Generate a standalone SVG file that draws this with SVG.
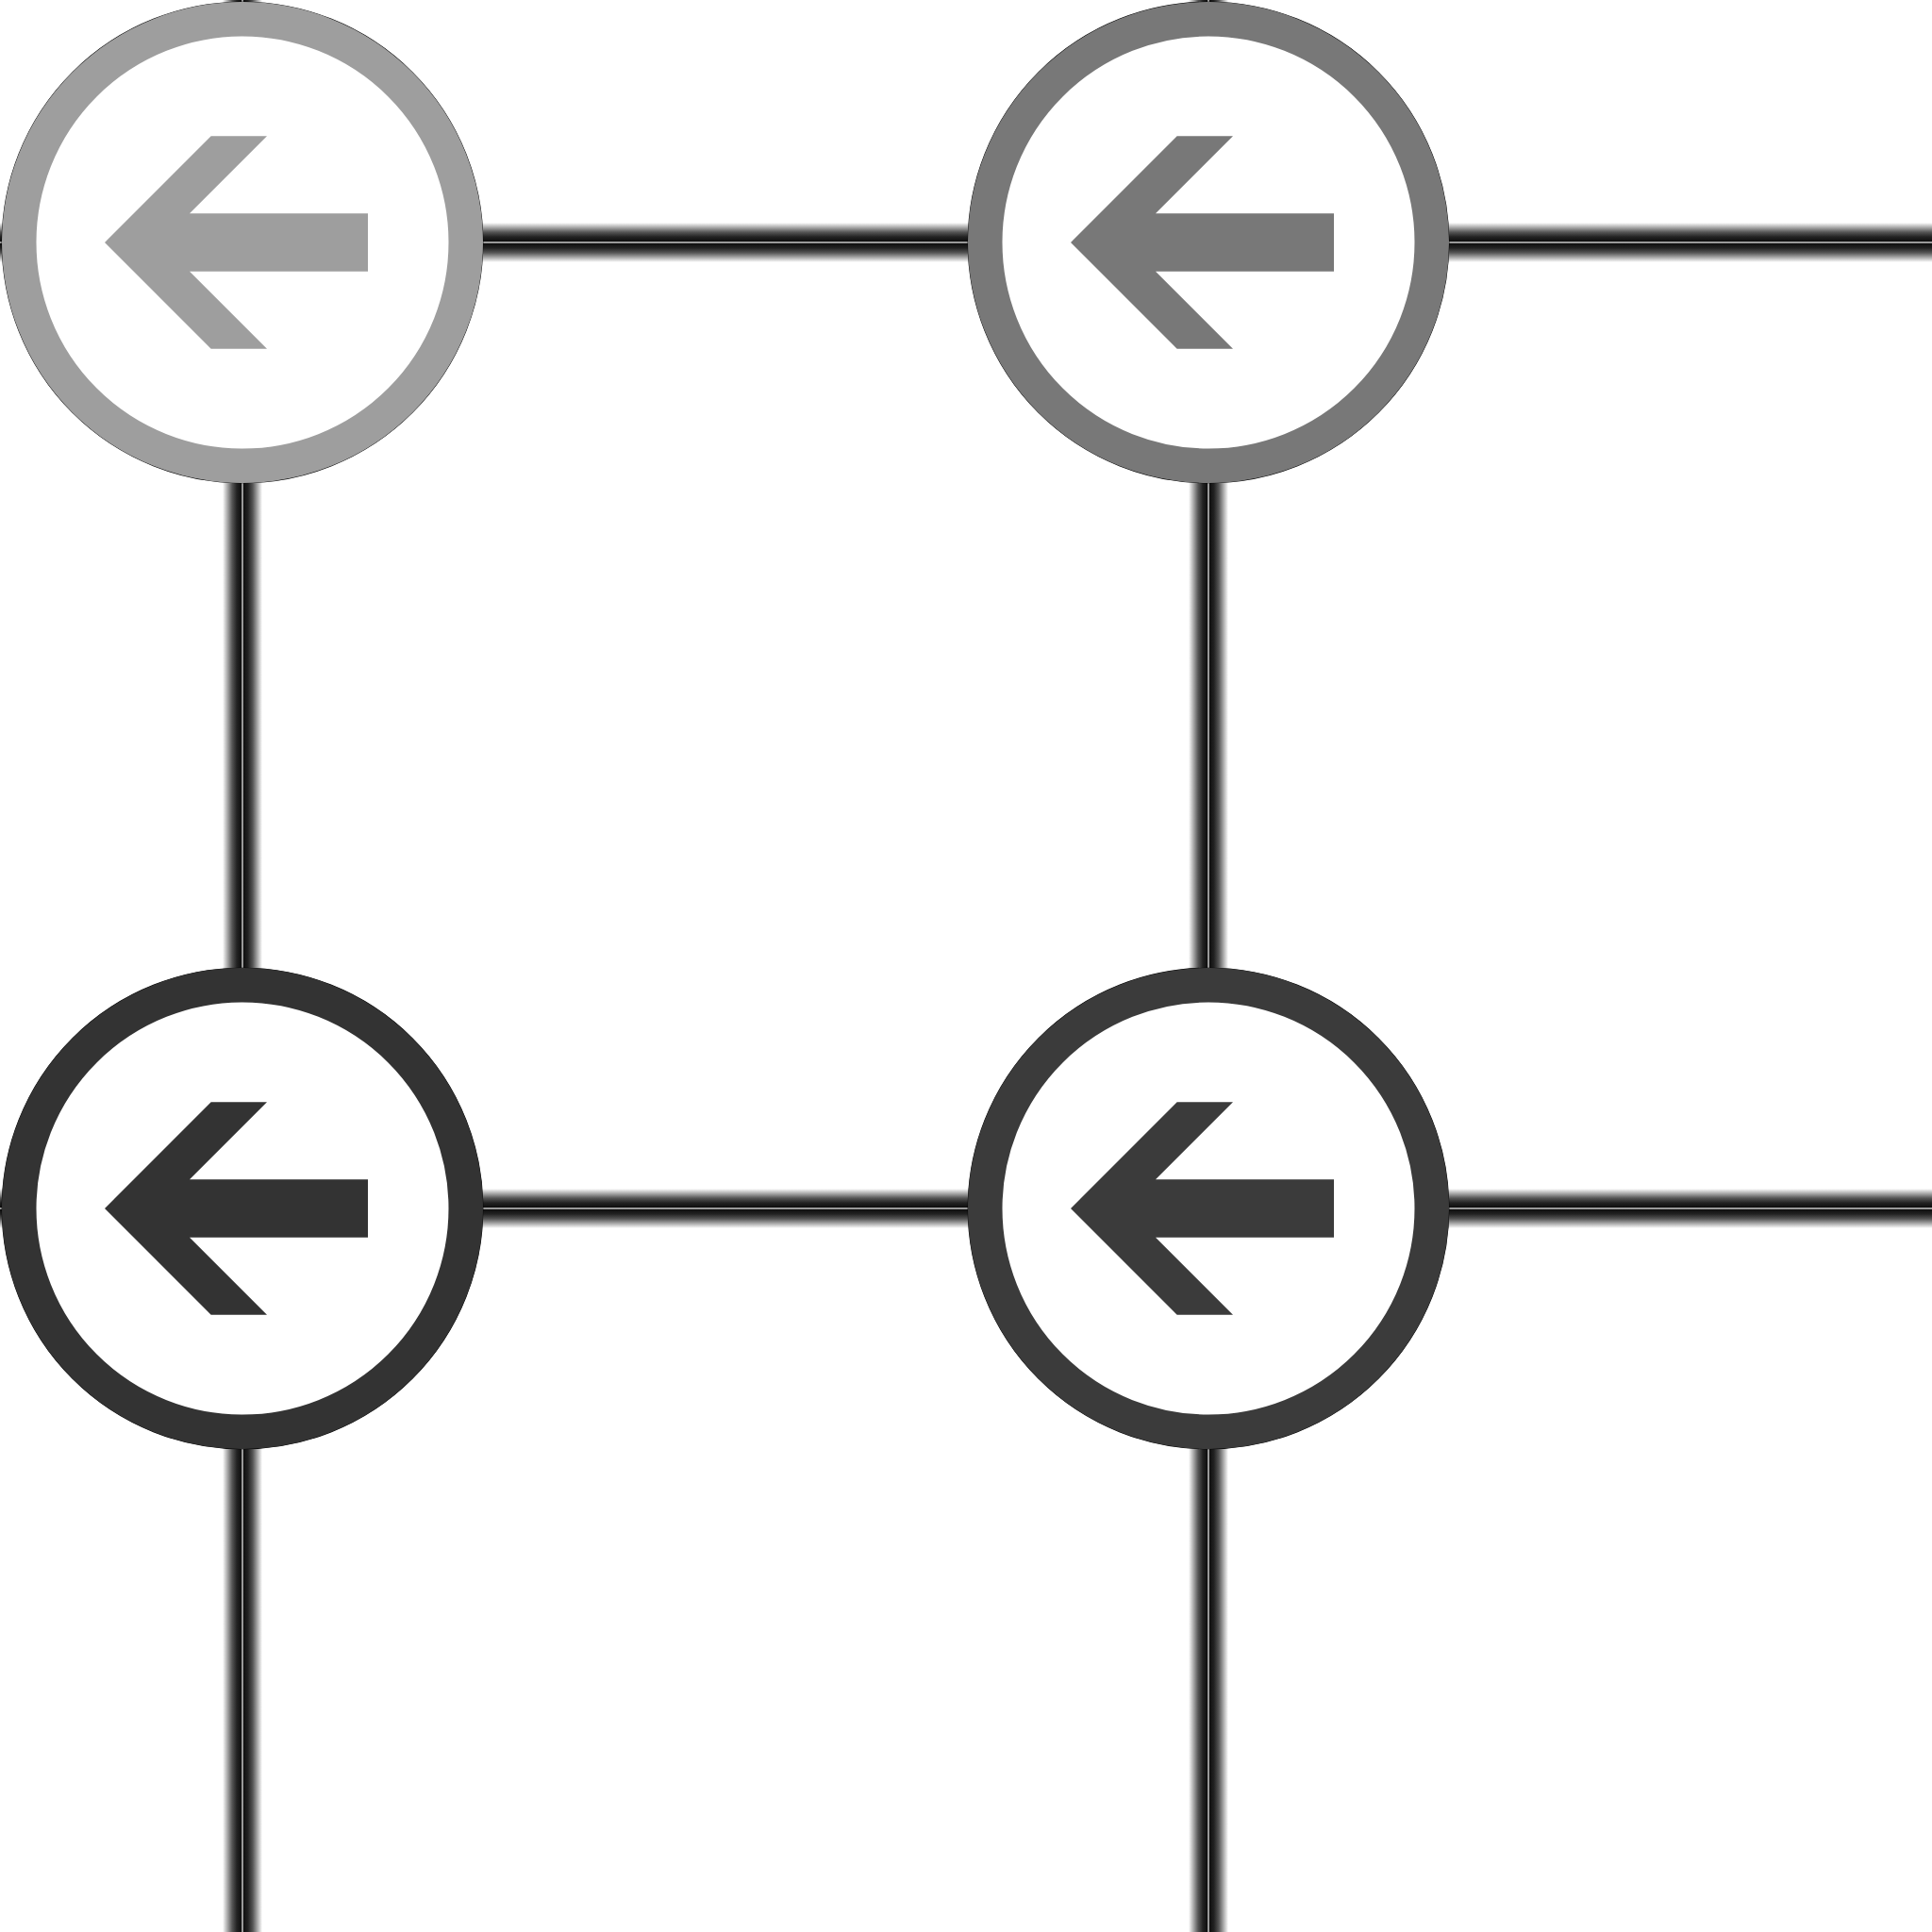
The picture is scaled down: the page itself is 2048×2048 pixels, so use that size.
<svg xmlns="http://www.w3.org/2000/svg" width="2048" height="2048" viewBox="0 0 2048 2048">
<style>
.under{fill:#000;stroke:#000;stroke-width:.6}
.ring{fill:#fff;stroke-width:36.5}
.ring.base{stroke:#000;stroke-width:37.2}
.c1{fill:#9e9e9e}.s1{stroke:#9e9e9e}
.c2{fill:#787878}.s2{stroke:#787878}
.c3{fill:#333333}.s3{stroke:#333333}
.c4{fill:#3b3b3b}.s4{stroke:#3b3b3b}
</style>
<defs>
<linearGradient id="gh" x1="0" y1="0" x2="0" y2="1">
<stop offset="0" stop-color="#fff"/><stop offset="0.12" stop-color="#aaa"/><stop offset="0.24" stop-color="#555"/><stop offset="0.36" stop-color="#222"/><stop offset="0.472" stop-color="#0e0e0e"/>
<stop offset="0.476" stop-color="#999"/><stop offset="0.524" stop-color="#999"/>
<stop offset="0.528" stop-color="#0e0e0e"/><stop offset="0.64" stop-color="#222"/><stop offset="0.76" stop-color="#555"/><stop offset="0.88" stop-color="#aaa"/><stop offset="1" stop-color="#fff"/>
</linearGradient>
<linearGradient id="gv" href="#gh" x1="0" y1="0" x2="1" y2="0"/>
<path id="arrow" d="M-146 0L-33.3-112.7H26L-56-30.7H133V30.7H-56L26 112.7H-33.3Z"/>
</defs>
<rect width="2048" height="2048" fill="#fff"/>
<g id="connectors">
<rect x="0" y="236" width="2048" height="42" fill="url(#gh)"/>
<rect x="0" y="1260" width="2048" height="42" fill="url(#gh)"/>
<rect x="236" y="0" width="42" height="2048" fill="url(#gv)"/>
<rect x="1260" y="0" width="42" height="2048" fill="url(#gv)"/>
</g>
<g id="node-1" transform="translate(257 257)">
<circle class="ring base" r="236.75"/><use href="#arrow" class="under" x="-.4"/>
<circle class="ring s1" r="236.75"/><use href="#arrow" class="c1"/>
</g>
<g id="node-2" transform="translate(1281 257)">
<circle class="ring base" r="236.75"/><use href="#arrow" class="under" x="-.4"/>
<circle class="ring s2" r="236.75"/><use href="#arrow" class="c2"/>
</g>
<g id="node-3" transform="translate(257 1281)">
<circle class="ring base" r="236.75"/><use href="#arrow" class="under" x="-.4"/>
<circle class="ring s3" r="236.75"/><use href="#arrow" class="c3"/>
</g>
<g id="node-4" transform="translate(1281 1281)">
<circle class="ring base" r="236.75"/><use href="#arrow" class="under" x="-.4"/>
<circle class="ring s4" r="236.75"/><use href="#arrow" class="c4"/>
</g>
</svg>
